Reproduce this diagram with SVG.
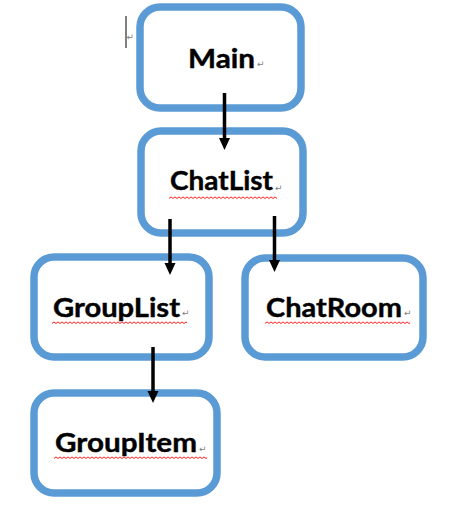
<svg xmlns="http://www.w3.org/2000/svg" xmlns:xlink="http://www.w3.org/1999/xlink" width="455" height="526" viewBox="0 0 455 526">
  <style>
    .box { fill: #ffffff; stroke: #5B9BD5; stroke-width: 7.5; }
    .label { font-family: Lato, "Open Sans", "Liberation Sans", sans-serif; font-weight: 700; font-size: 26px; fill: #000000; }
    .lbl { stroke: #000000; stroke-width: 0.4; }
    .ret { font-family: "DejaVu Sans", sans-serif; font-weight: 400; font-size: 9px; fill: #808080; stroke: none; }
    .conn { stroke: #000000; stroke-width: 3.5; fill: none; }
    .wave { stroke: #FF0000; stroke-width: 0.9; fill: none; }
  </style>
  <defs>
    <marker id="arrow" markerUnits="userSpaceOnUse" markerWidth="12" markerHeight="12" viewBox="0 -6 12 12" refX="0" refY="0" orient="auto">
      <path d="M0,-5.5 L12,0 L0,5.5 Z" fill="#000000"/>
    </marker>
    <path id="wavepath" class="wave" d="M0,2.5 l2,-1.6 2,1.6 2,-1.6 2,1.6 2,-1.6 2,1.6 2,-1.6 2,1.6 2,-1.6 2,1.6 2,-1.6 2,1.6 2,-1.6 2,1.6 2,-1.6 2,1.6 2,-1.6 2,1.6 2,-1.6 2,1.6 2,-1.6 2,1.6 2,-1.6 2,1.6 2,-1.6 2,1.6 2,-1.6 2,1.6 2,-1.6 2,1.6 2,-1.6 2,1.6 2,-1.6 2,1.6 2,-1.6 2,1.6 2,-1.6 2,1.6 2,-1.6 2,1.6 2,-1.6 2,1.6 2,-1.6 2,1.6 2,-1.6 2,1.6 2,-1.6 2,1.6 2,-1.6 2,1.6 2,-1.6 2,1.6 2,-1.6 2,1.6 2,-1.6 2,1.6 2,-1.6 2,1.6 2,-1.6 2,1.6 2,-1.6 2,1.6 2,-1.6 2,1.6 2,-1.6 2,1.6 2,-1.6 2,1.6 2,-1.6 2,1.6 2,-1.6 2,1.6 2,-1.6 2,1.6 2,-1.6 2,1.6 2,-1.6 2,1.6 2,-1.6 2,1.6 2,-1.6 2,1.6"/>
  </defs>

  <rect width="455" height="526" fill="#ffffff"/>

  <g id="cursor">
    <line x1="126" y1="16" x2="126" y2="48" stroke="#000000" stroke-width="1"/>
    <text class="ret" x="126.5" y="40">↵</text>
  </g>

  <g id="node-main">
    <rect class="box" x="140" y="7" width="161" height="101" rx="20" ry="20"/>
    <text class="label" x="188" y="68"><tspan class="lbl" textLength="67" lengthAdjust="spacingAndGlyphs">Main</tspan><tspan class="ret" dx="2" dy="-1">↵</tspan></text>
  </g>

  <g id="node-chatlist">
    <rect class="box" x="141" y="131" width="162" height="102" rx="20" ry="20"/>
    <text class="label" x="170" y="190"><tspan class="lbl" textLength="103" lengthAdjust="spacingAndGlyphs">ChatList</tspan><tspan class="ret" dx="2" dy="1">↵</tspan></text>
    <svg x="169" y="196" width="108" height="4" overflow="hidden"><use xlink:href="#wavepath" href="#wavepath"/></svg>
  </g>

  <g id="node-grouplist">
    <rect class="box" x="34" y="257" width="175" height="100" rx="20" ry="20"/>
    <text class="label" x="53" y="317"><tspan class="lbl" textLength="127" lengthAdjust="spacingAndGlyphs">GroupList</tspan><tspan class="ret" dx="2" dy="-1">↵</tspan></text>
    <svg x="52" y="321" width="135" height="4" overflow="hidden"><use xlink:href="#wavepath" href="#wavepath"/></svg>
  </g>

  <g id="node-chatroom">
    <rect class="box" x="245" y="258" width="178" height="99" rx="20" ry="20"/>
    <text class="label" x="266" y="317"><tspan class="lbl" textLength="136" lengthAdjust="spacingAndGlyphs">ChatRoom</tspan><tspan class="ret" dx="2" dy="-1">↵</tspan></text>
    <svg x="265" y="321" width="145" height="4" overflow="hidden"><use xlink:href="#wavepath" href="#wavepath"/></svg>
  </g>

  <g id="node-groupitem">
    <rect class="box" x="34" y="393" width="183" height="100" rx="20" ry="20"/>
    <text class="label" x="55" y="452"><tspan class="lbl" textLength="142" lengthAdjust="spacingAndGlyphs">GroupItem</tspan><tspan class="ret" dx="2">↵</tspan></text>
    <svg x="54" y="456" width="153" height="4" overflow="hidden"><use xlink:href="#wavepath" href="#wavepath"/></svg>
  </g>

  <g id="connectors">
    <line class="conn" x1="224.5" y1="93" x2="224.5" y2="138" marker-end="url(#arrow)"/>
    <line class="conn" x1="170" y1="219" x2="170" y2="263" marker-end="url(#arrow)"/>
    <line class="conn" x1="274.5" y1="216" x2="274.5" y2="260" marker-end="url(#arrow)"/>
    <line class="conn" x1="153" y1="347" x2="153" y2="391" marker-end="url(#arrow)"/>
  </g>
</svg>
